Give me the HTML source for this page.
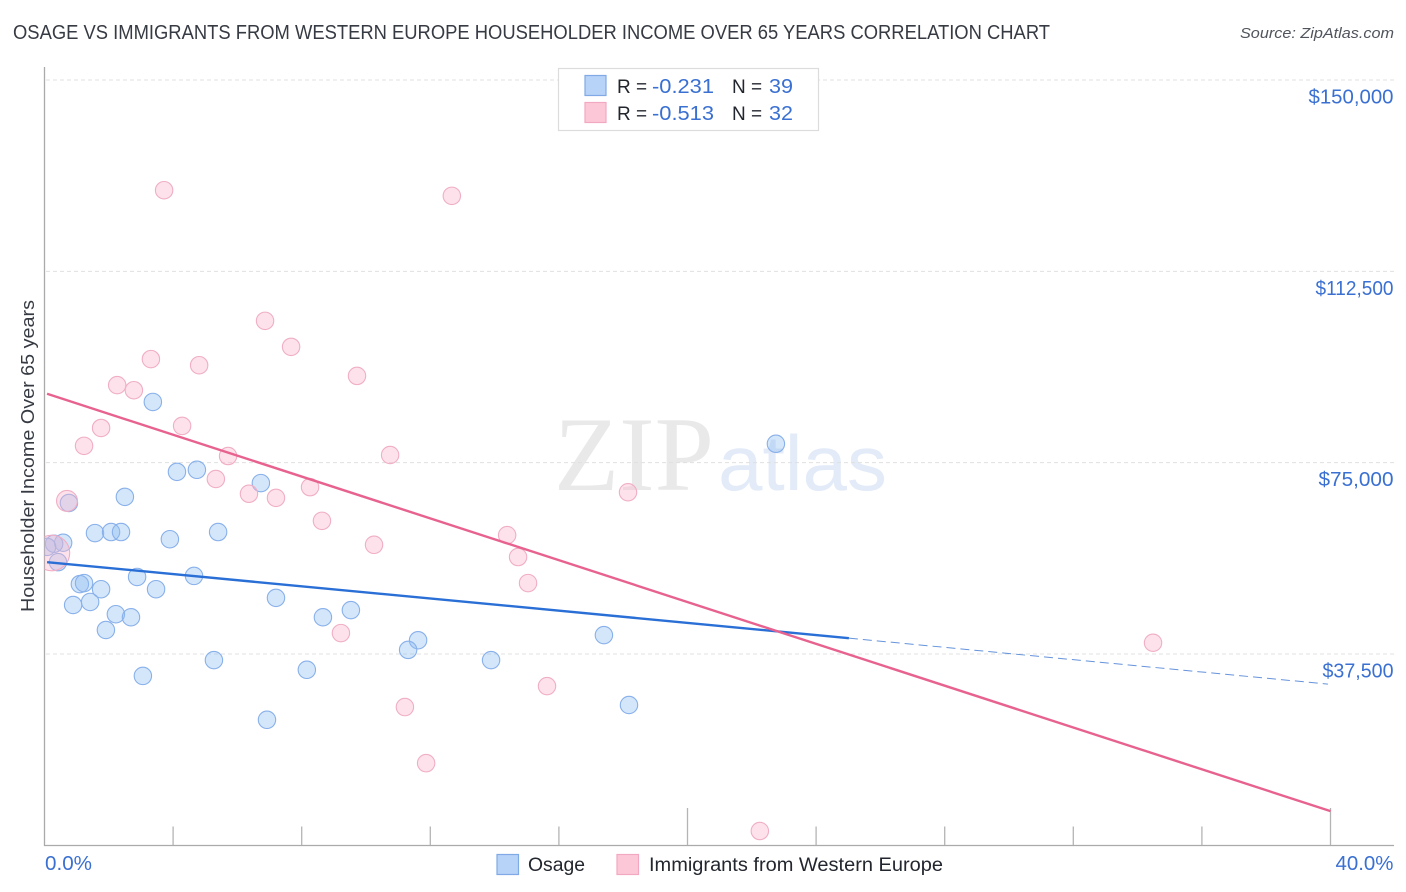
<!DOCTYPE html>
<html lang="en">
<head>
<meta charset="utf-8">
<title>Osage vs Immigrants from Western Europe Householder Income Over 65 Years Correlation Chart</title>
<style>
html,body{margin:0;padding:0;background:#fff;width:1406px;height:892px;overflow:hidden}
svg{display:block;font-family:"Liberation Sans",sans-serif}
</style>
</head>
<body>
<svg id="chart" width="1406" height="892" viewBox="0 0 1406 892" xmlns="http://www.w3.org/2000/svg">
  <defs>
    <clipPath id="plot-clip"><rect x="44.5" y="60" width="1350" height="785"/></clipPath>
  </defs>
  <rect width="1406" height="892" fill="#fff"/>
  <text x="13" y="39" font-size="20" fill="#363a42" textLength="1037" lengthAdjust="spacingAndGlyphs">OSAGE VS IMMIGRANTS FROM WESTERN EUROPE HOUSEHOLDER INCOME OVER 65 YEARS CORRELATION CHART</text>
  <text x="1394" y="38" font-size="15" font-style="italic" fill="#50545c" text-anchor="end" textLength="154" lengthAdjust="spacingAndGlyphs">Source: ZipAtlas.com</text>

  <g>
    <text x="554" y="490" style="font-family:'Liberation Serif',serif" font-size="106" fill="#e9e9e9" textLength="160" lengthAdjust="spacingAndGlyphs">ZIP</text>
    <text x="718" y="490" style="font-family:'Liberation Sans',sans-serif" font-size="78" fill="#e3ebf9" textLength="169" lengthAdjust="spacingAndGlyphs">atlas</text>
  </g>

  <g id="grid"></g>
  <g id="axes"></g>
  <g id="points" clip-path="url(#plot-clip)"></g>
  <g id="trends"></g>

  <text transform="translate(34,612) rotate(-90)" font-size="18.5" fill="#363a42" textLength="312" lengthAdjust="spacingAndGlyphs">Householder Income Over 65 years</text>

  <g>
    <rect x="558.5" y="68.5" width="260" height="62" fill="#fff" stroke="#dcdcdc" stroke-width="1.2"/>
    <rect x="585" y="75.5" width="21" height="20" fill="#b7d3f8" stroke="#80aae6" stroke-width="1.2"/>
    <rect x="585" y="102.5" width="21" height="20" fill="#fcc8d8" stroke="#f2a8c0" stroke-width="1.2"/>
    <text x="617" y="93" font-size="19" fill="#22262e">R =</text>
    <text x="652" y="93" font-size="20" fill="#3a70d2" textLength="62" lengthAdjust="spacingAndGlyphs">-0.231</text>
    <text x="732" y="93" font-size="19" fill="#22262e">N =</text>
    <text x="769" y="93" font-size="20" fill="#3a70d2" textLength="24" lengthAdjust="spacingAndGlyphs">39</text>
    <text x="617" y="120" font-size="19" fill="#22262e">R =</text>
    <text x="652" y="120" font-size="20" fill="#3a70d2" textLength="62" lengthAdjust="spacingAndGlyphs">-0.513</text>
    <text x="732" y="120" font-size="19" fill="#22262e">N =</text>
    <text x="769" y="120" font-size="20" fill="#3a70d2" textLength="24" lengthAdjust="spacingAndGlyphs">32</text>
  </g>

  <g>
    <rect x="497" y="854.5" width="21.5" height="20" fill="#b7d3f8" stroke="#80aae6" stroke-width="1.2"/>
    <text x="528" y="871" font-size="19" fill="#22262e" textLength="57" lengthAdjust="spacingAndGlyphs">Osage</text>
    <rect x="617" y="854.5" width="21.5" height="20" fill="#fcc8d8" stroke="#f2a8c0" stroke-width="1.2"/>
    <text x="649" y="871" font-size="19" fill="#22262e" textLength="294" lengthAdjust="spacingAndGlyphs">Immigrants from Western Europe</text>
  </g>
</svg>

<script>
// Chart data
const osageX = [3.37,22.75,4.12,4.74,6.73,2.50,0.76,1.57,2.07,2.38,5.40,3.90,0.58,0.30,0.08,0.42,2.88,4.65,1.10,1.23,1.76,3.47,0.89,1.42,7.20,9.53,2.22,2.69,8.66,1.91,11.62,17.40,11.31,5.27,13.89,8.16,3.06,18.18,6.92];
const osageY = [86900,78700,73200,73600,71000,68300,67100,61200,61400,61400,61400,60000,59300,59100,58500,55500,52600,52800,51200,51400,50200,50200,47100,47700,48500,46100,45300,44700,44700,42200,40200,41200,38300,36300,36300,34400,33200,27500,24600];
const immigrantsX = [3.72,12.67,6.86,7.67,3.31,4.81,9.72,2.26,2.78,4.28,1.76,1.23,10.75,5.71,5.33,8.26,6.36,7.20,18.15,0.70,8.63,14.39,10.25,14.73,15.04,9.22,34.48,15.63,11.21,11.87,22.25,0.23];
const immigrantsY = [128400,127300,102800,97700,95300,94100,92000,90200,89200,82200,81800,78300,76500,76300,71800,70200,68900,68100,69200,67500,63600,60800,58900,56500,51400,41600,39700,31200,27100,16100,2800,57300];
const immigrantsWeight = [1,1,1,1,1,1,1,1,1,1,1,1,1,1,1,1,1,1,1,1.45,1,1,1,1,1,1,1,1,1,1,1,4.2];
const osageTrendX = [0.08,25.02];
const osageTrendY = [55500,40600];
const osageForecastX = [25.02,39.92];
const osageForecastY = [40600,31600];
const immigrantsTrendX = [0.08,40];
const immigrantsTrendY = [88500,6700];
const yTicks = [150000,112500,75000,37500];
const yTickLabels = ['$150,000','$112,500','$75,000','$37,500'];
const xTicks = [4,8,12,16,20,24,28,32,36,40];
const xMajorTicks = [20,40];
const xEndLabels = ['0.0%','40.0%'];

// Axis functions
function xScale(v){ return 44.5 + v * (1286 / 40); }
function yScale(v){ return 80 + (150000 - v) * (191.33 / 37500); }
function rScale(w){ return 8.7 * Math.sqrt(w); }
// Rendered width of a y tick label, matching the reference's wider label font
function labelWidth(i){
  return [85, 78, 75, 71][i];
}

const NS = 'http://www.w3.org/2000/svg';
function make(tag, attrs, parent){
  const el = document.createElementNS(NS, tag);
  for (const k in attrs) el.setAttribute(k, attrs[k]);
  parent.appendChild(el);
  return el;
}
const grid = document.getElementById('grid');
const axes = document.getElementById('axes');
const points = document.getElementById('points');
const trends = document.getElementById('trends');

// Gridlines and y tick labels
yTicks.forEach(function(t, i){
  const g = make('line', {x1:46, x2:1394, y1:yScale(t), y2:yScale(t), stroke:'#e0e0e0', 'stroke-width':1, 'stroke-dasharray':'4 3'}, grid);
  
  
  const lab = make('text', {x:1393.5, y:yScale(t) + 23.5, 'font-size':20, fill:'#3a70d2', 'text-anchor':'end', textLength:labelWidth(i), lengthAdjust:'spacingAndGlyphs'}, axes);
  
  
  lab.textContent = yTickLabels[i];
});

// Axis lines
const yAxis = make('line', {x1:44.5, x2:44.5, y1:67, y2:846, stroke:'#aaaaaa', 'stroke-width':1.3}, axes);


const xAxis = make('line', {x1:44, x2:1394, y1:845.5, y2:845.5, stroke:'#aaaaaa', 'stroke-width':1.3}, axes);



// X ticks
xTicks.forEach(function(t){
  const major = xMajorTicks.indexOf(t) >= 0;
  const tick = make('line', {x1:xScale(t), x2:xScale(t), y1:major ? 808 : 826.5, y2:845, stroke:'#b4b4b4', 'stroke-width':1.3}, axes);
  
  
});
const xStart = make('text', {x:45, y:870, 'font-size':20, fill:'#3a70d2', textLength:47, lengthAdjust:'spacingAndGlyphs'}, axes);


xStart.textContent = xEndLabels[0];
const xEnd = make('text', {x:1393.5, y:870, 'font-size':20, fill:'#3a70d2', 'text-anchor':'end', textLength:58, lengthAdjust:'spacingAndGlyphs'}, axes);


xEnd.textContent = xEndLabels[1];

// Points
osageX.forEach(function(x, i){
  const c = make('circle', {cx:xScale(x), cy:yScale(osageY[i]), r:rScale(1), fill:'#8fbcf2', 'fill-opacity':0.38, stroke:'#88b0ea', 'stroke-width':1.1}, points);
  
  
});
immigrantsX.forEach(function(x, i){
  const c = make('circle', {cx:xScale(x), cy:yScale(immigrantsY[i]), r:rScale(immigrantsWeight[i]), fill:'#f9b6cc', 'fill-opacity':0.4, stroke:'#f0aec4', 'stroke-width':1.1}, points);
  
  
});

// Trend lines
const t1 = make('line', {x1:xScale(osageForecastX[0]), y1:yScale(osageForecastY[0]), x2:xScale(osageForecastX[1]), y2:yScale(osageForecastY[1]), stroke:'#3f78d2', 'stroke-width':1, 'stroke-opacity':0.8, 'stroke-dasharray':'9 5'}, trends);


const t2 = make('line', {x1:xScale(osageTrendX[0]), y1:yScale(osageTrendY[0]), x2:xScale(osageTrendX[1]), y2:yScale(osageTrendY[1]), stroke:'#2a6fd6', 'stroke-width':2.4}, trends);


const t3 = make('line', {x1:xScale(immigrantsTrendX[0]), y1:yScale(immigrantsTrendY[0]), x2:xScale(immigrantsTrendX[1]), y2:yScale(immigrantsTrendY[1]), stroke:'#e8628f', 'stroke-width':2.4}, trends);


</script>
</body>
</html>
